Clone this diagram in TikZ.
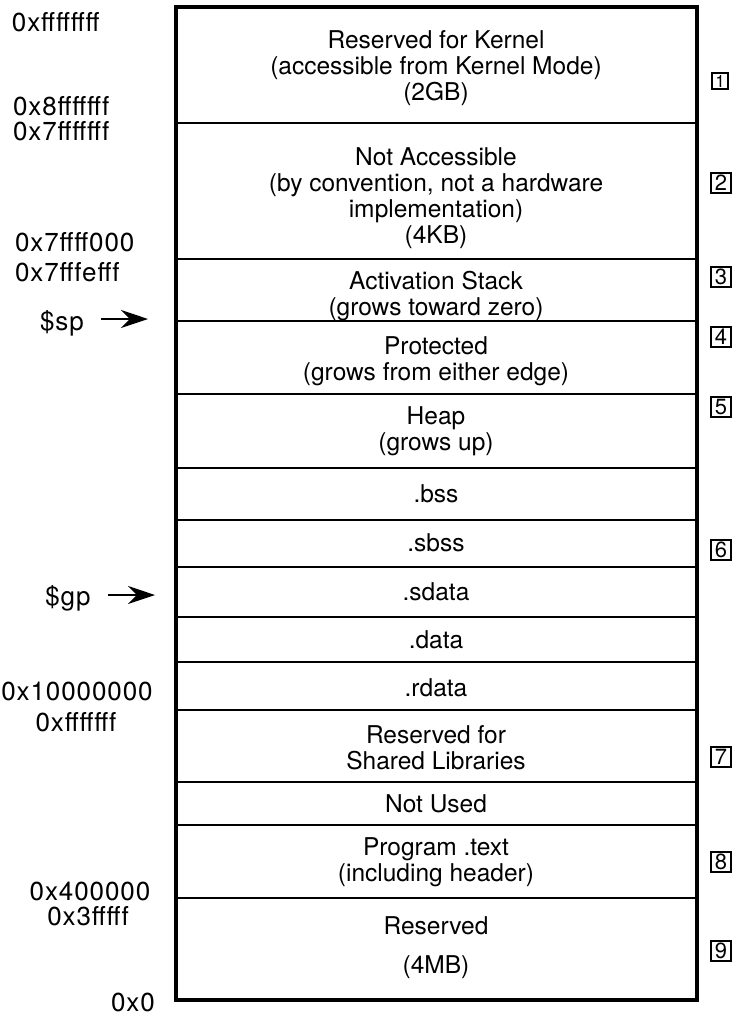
\documentclass[tikz,border=0pt]{standalone}
\usepackage{fontspec}
\setmainfont{TeX Gyre Heros}
\newfontfamily\addrfont[LetterSpace=3.5]{TeX Gyre Heros}
\usetikzlibrary{arrows.meta}
\begin{document}
\begin{tikzpicture}[x=1pt,y=-1pt,
  every node/.style={inner sep=0pt, outer sep=0pt},
  region/.style={align=center, font=\fontsize{24.5}{26}\selectfont},
  addr/.style={font=\addrfont\fontsize{26}{26}\selectfont},
  tag/.style={draw, line width=1.2pt, minimum size=20pt, inner sep=0pt,
              font=\fontsize{22}{22}\selectfont},
  frame/.style={line width=4.8pt},
  divider/.style={line width=2.6pt},
  pointer/.style={line width=2.3pt, -{Stealth[length=27pt,width=18pt,inset=9pt]}}
]
\useasboundingbox (0,0) rectangle (744,1017);

% outer frame of the address space
\draw[frame] (176,7) rectangle (697,1000);

% boundaries between the regions
\foreach \y in {123,259,321,394,468,520,567,617,662,710,782,825,898}
  \draw[divider] (176,\y) -- (697,\y);

% region contents
\node[region] (kernel)  at (436,68)  {Reserved for Kernel\\(accessible from Kernel Mode)\\(2GB)};
\node[region] (noacc)   at (436,198) {Not Accessible\\(by convention, not a hardware\\implementation)\\(4KB)};
\node[region] (stack)   at (436,296) {Activation Stack\\(grows toward zero)};
\node[region] (prot)    at (436,361) {Protected\\(grows from either edge)};
\node[region] (heap)    at (436,431) {Heap\\(grows up)};
\node[region] (bss)     at (436,494) {.bss};
\node[region] (sbss)    at (436,543) {.sbss};
\node[region] (sdata)   at (436,592) {.sdata};
\node[region] (data)    at (436,640) {.data};
\node[region] (rdata)   at (436,688) {.rdata};
\node[region] (shlib)   at (436,748) {Reserved for\\Shared Libraries};
\node[region] (unused)  at (436,804) {Not Used};
\node[region] (text)    at (436,862) {Program .text\\(including header)};
\node[region] (resv)    at (436,948) {Reserved\\[13pt](4MB)};

% addresses
\node[addr, anchor=west] (aTop)   at (12,22)  {0xffffffff};
\node[addr, anchor=west] (aK1)    at (13,106) {0x8fffffff};
\node[addr, anchor=west] (aK0)    at (13,131) {0x7fffffff};
\node[addr, anchor=west] (aNA)    at (15,242) {0x7ffff000};
\node[addr, anchor=west] (aST)    at (15,272) {0x7fffefff};
\node[addr] (aD1)  at (77,691)  {0x10000000};
\node[addr] (aD0)  at (76,722)  {0xfffffff};
\node[addr] (aT1)  at (90,891)  {0x400000};
\node[addr] (aT0)  at (88,916)  {0x3fffff};
\node[addr] (aZero) at (133,1002) {0x0};

% register pointers
\node[addr] (sp) at (62,323) {\$sp};
\coordinate (spTail) at (101,319);
\coordinate (spTip)  at (148,319);
\draw[pointer] (spTail) -- (spTip);

\node[addr] (gp) at (68,598) {\$gp};
\coordinate (gpTail) at (108,595);
\coordinate (gpTip)  at (155,595);
\draw[pointer] (gpTail) -- (gpTip);

% numbered notes
\node[tag, minimum size=16pt, font=\fontsize{17}{17}\selectfont] (n1) at (720,81) {1};
\node[tag] (n2) at (721,183) {2};
\node[tag] (n3) at (721,277) {3};
\node[tag] (n4) at (721,337) {4};
\node[tag] (n5) at (721,407) {5};
\node[tag] (n6) at (721,550) {6};
\node[tag] (n7) at (721,757) {7};
\node[tag] (n8) at (721,862) {8};
\node[tag] (n9) at (721,951) {9};
\end{tikzpicture}
\end{document}
